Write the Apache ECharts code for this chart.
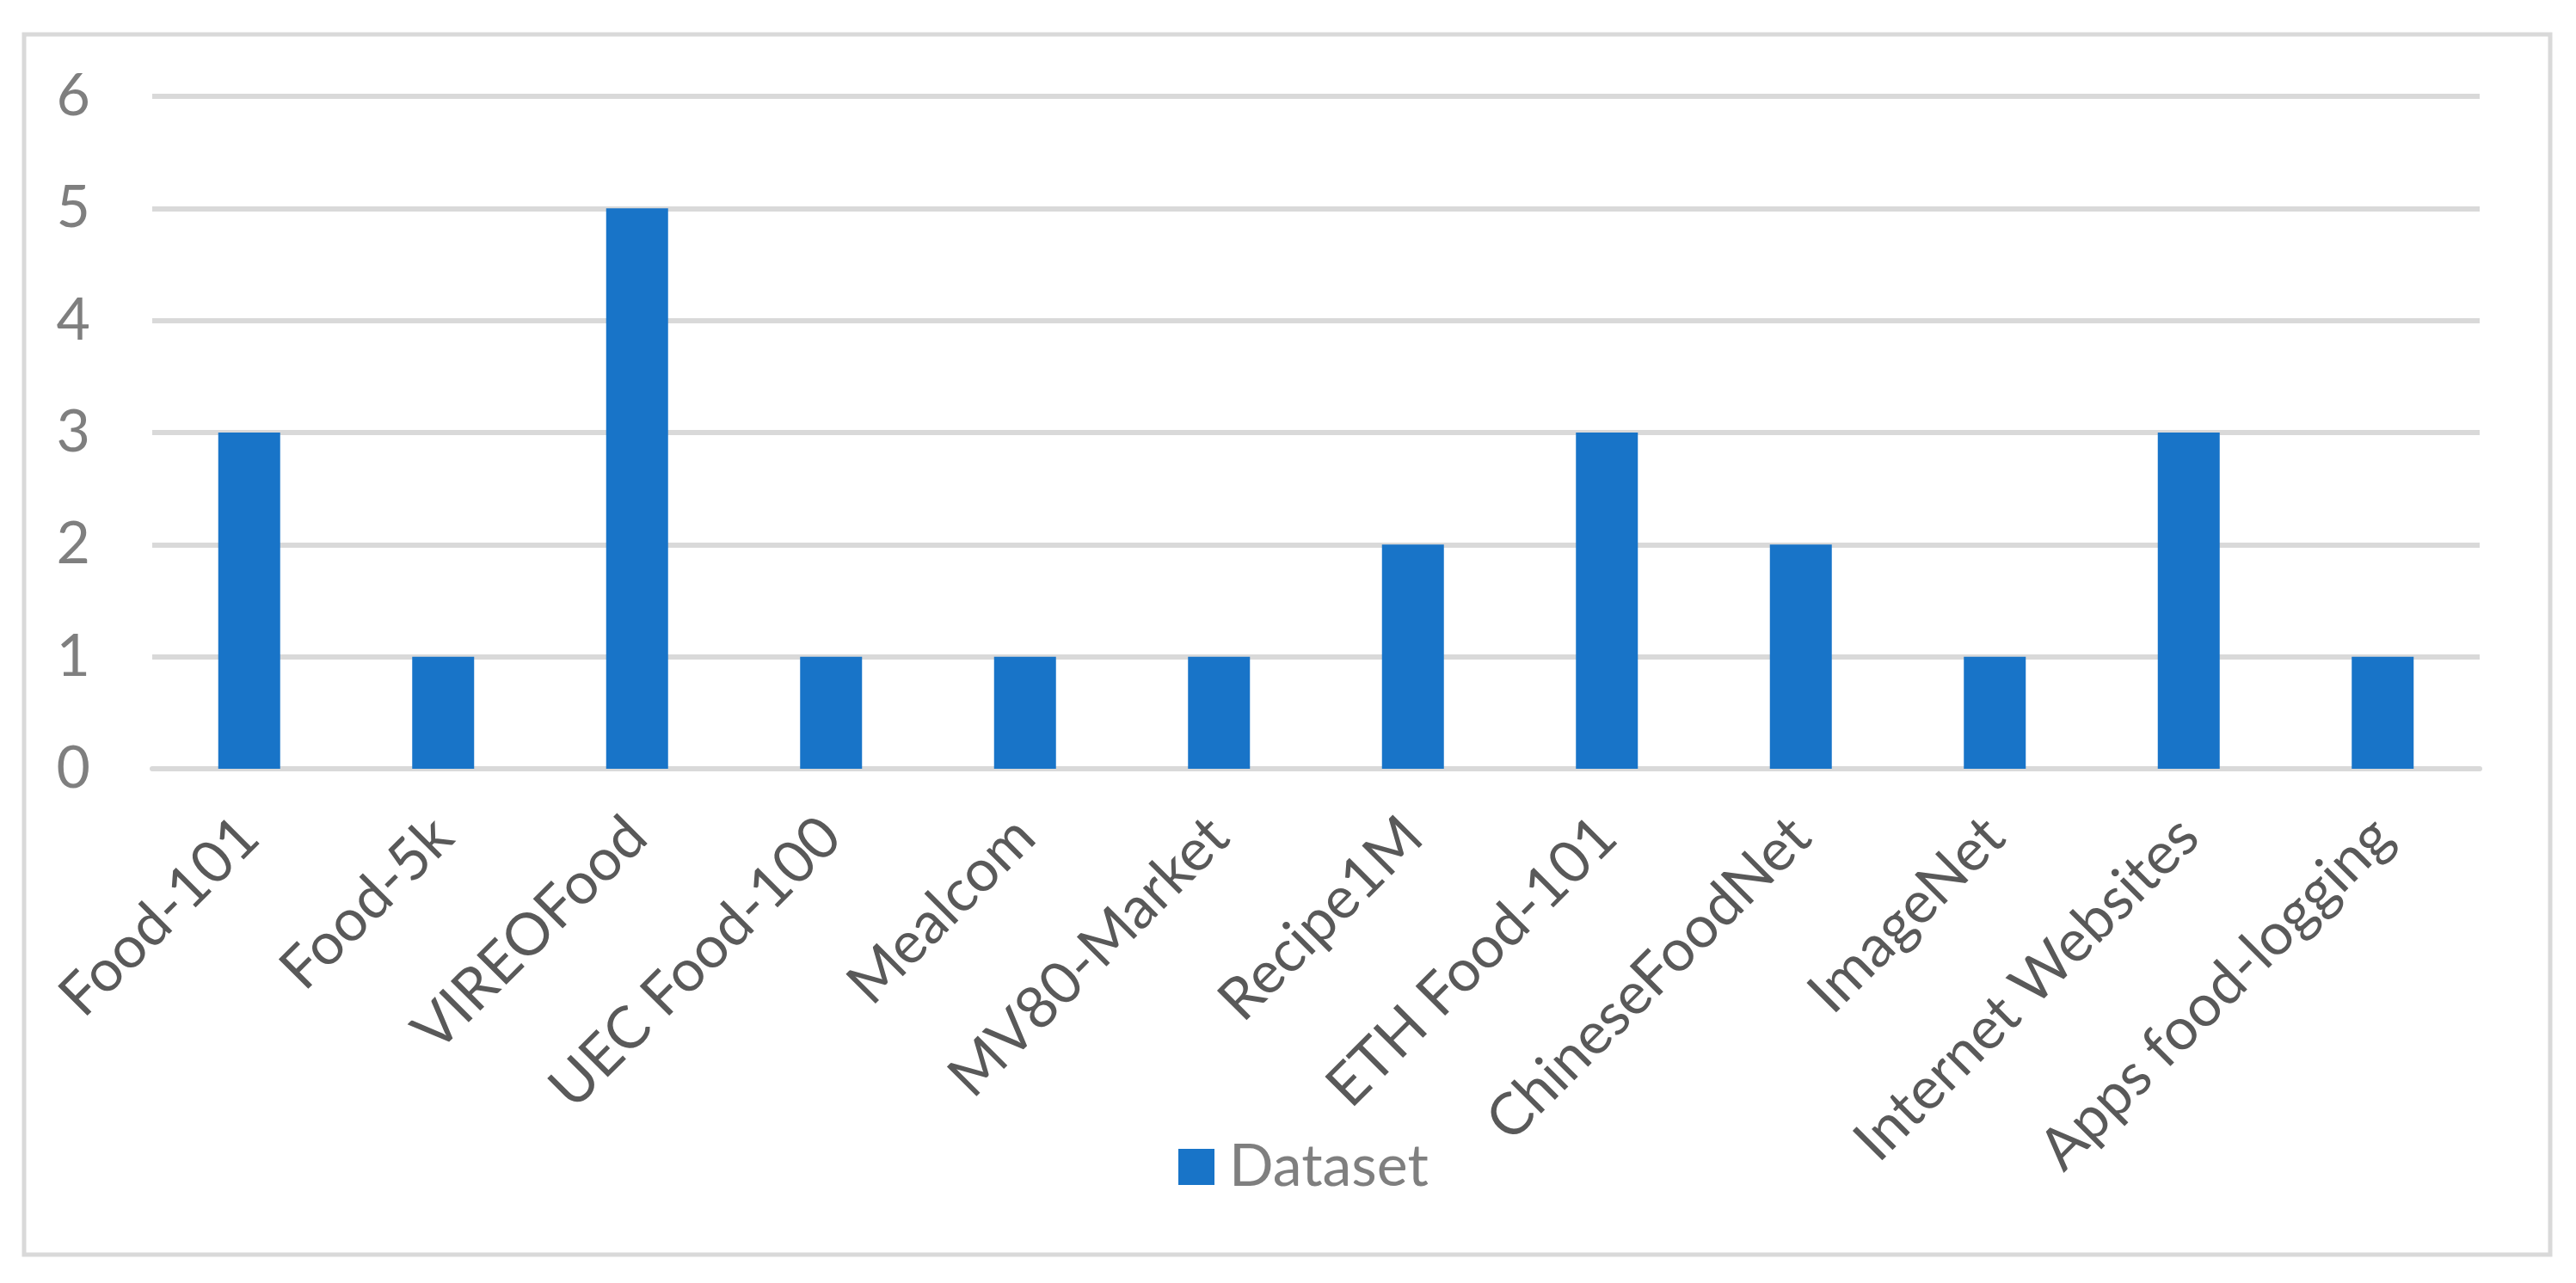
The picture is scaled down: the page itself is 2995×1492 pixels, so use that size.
<!DOCTYPE html>
<html>
<head>
<meta charset="utf-8">
<script src="https://cdn.jsdelivr.net/npm/echarts@6/dist/echarts.min.js"></script>
<style>
html,body{margin:0;padding:0;background:#fff;}
#chart{width:2995px;height:1492px;}
</style>
</head>
<body>
<div id="chart"></div>
<script>
const categories = ["Food-101","Food-5k","VIREOFood","UEC Food-100","Mealcom","MV80-Market","Recipe1M","ETH Food-101","ChineseFoodNet","ImageNet","Internet Websites","Apps food-logging"];
const datasetValues = [3,1,5,1,1,1,2,3,2,1,3,1];
const yTicks = [0,1,2,3,4,5,6];
const seriesName = "Dataset";

const FONT = "Lato";
const chart = echarts.init(document.getElementById('chart'));
chart.setOption({
  backgroundColor: '#ffffff',
  animation: false,
  graphic: [{
    type: 'rect',
    shape: {x: 28, y: 40, width: 2937, height: 1419},
    style: {fill: 'none', stroke: '#d9d9d9', lineWidth: 5},
    z: -10
  }],
  grid: {left: 177, right: 112, top: 112, bottom: 598, containLabel: false},
  legend: {
    data: [seriesName],
    left: 1365, top: 1318,
    itemWidth: 42, itemHeight: 42,
    icon: 'rect',
    textStyle: {fontFamily: FONT, fontSize: 68, color: '#7f7f7f', padding: [0,0,0,12]}
  },
  xAxis: {
    type: 'category',
    data: categories,
    axisLine: {show: true, lineStyle: {color: '#d9d9d9', width: 6}},
    axisTick: {show: false},
    axisLabel: {interval: 0, rotate: 45, margin: 68, fontFamily: FONT, fontSize: 68, color: '#595959'}
  },
  yAxis: {
    type: 'value',
    min: yTicks[0], max: yTicks[yTicks.length-1], interval: 1,
    axisLine: {show: false}, axisTick: {show: false},
    splitLine: {lineStyle: {color: '#d9d9d9', width: 6}},
    axisLabel: {margin: 72, fontFamily: FONT, fontSize: 68, color: '#7f7f7f'}
  },
  series: [{
    name: seriesName,
    type: 'bar',
    data: datasetValues,
    barWidth: 72,
    itemStyle: {color: '#1874c8'}
  }]
});
</script>
</body>
</html>
